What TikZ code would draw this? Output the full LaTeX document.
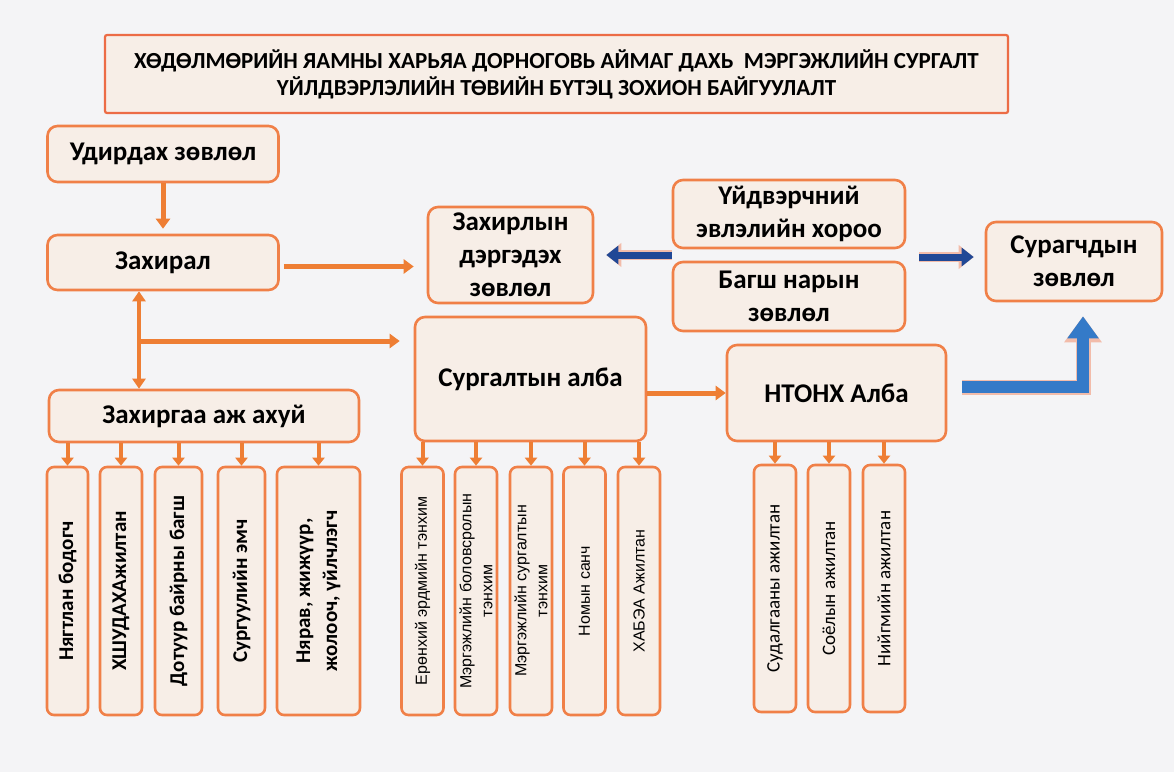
\documentclass[tikz,border=0pt]{standalone}
\usepackage{fontspec}
\setmainfont{Carlito}
\newfontfamily\arialfont{Liberation Sans}
\usepackage{tikz}
\usetikzlibrary{arrows.meta, positioning, calc}
\definecolor{bgcol}{RGB}{244,244,246}
\definecolor{boxfill}{RGB}{247,238,231}
\definecolor{boxline}{RGB}{240,128,72}
\definecolor{titleline}{RGB}{236,108,70}
\definecolor{arrcol}{RGB}{238,126,52}
\definecolor{navy}{RGB}{32,72,150}
\definecolor{skyblue}{RGB}{52,122,200}
\definecolor{halo}{RGB}{242,188,170}

\begin{document}
\begin{tikzpicture}[x=1pt, y=-1pt,
  bx/.style={draw=boxline, line width=2.6pt, fill=boxfill, rounded corners=10pt, inner sep=0pt,
    align=center, font=\bfseries\fontsize{27}{33}\selectfont},
  leaf/.style={bx, minimum height=248pt, rounded corners=7pt},
  vlab/.style={rotate=90, align=center, inner sep=0pt},
  oarr/.style={draw=arrcol, line width=5pt, -{Triangle[width=14pt,length=10pt]}},
  carr/.style={oarr, line width=4pt, -{Triangle[width=12pt,length=8pt]}},
  barr/.style={draw=navy, line width=7pt, -{Triangle[width=18pt,length=12pt]},
    preaction={draw=halo, line width=10pt, -{Triangle[width=23pt,length=15pt]}}},
  barrb/.style={draw=skyblue, line width=12pt, -{Triangle[width=30pt,length=22pt]},
    preaction={draw=halo, line width=15pt, -{Triangle[width=36pt,length=26pt]}}}]

  \fill[bgcol] (0,0) rectangle (1174,772);
  \useasboundingbox (0,0) rectangle (1174,772);

  \node[bx, draw=titleline, line width=2.2pt, rounded corners=2pt, minimum width=903pt, minimum height=78pt,
    font=\bfseries\fontsize{23}{27}\selectfont] (title) at (556.5,74)
    {ХӨДӨЛМӨРИЙН ЯАМНЫ ХАРЬЯА ДОРНОГОВЬ АЙМАГ ДАХЬ \ МЭРГЭЖЛИЙН СУРГАЛТ\\ҮЙЛДВЭРЛЭЛИЙН ТӨВИЙН БҮТЭЦ ЗОХИОН БАЙГУУЛАЛТ};

  % upper level
  \node[bx, minimum width=231pt, minimum height=56pt] (udirdah) at (163,154) {Удирдах зөвлөл};
  \node[bx, minimum width=231pt, minimum height=55pt] (zahiral) at (163,262.5) {Захирал};
  \node[bx, minimum width=165pt, minimum height=96pt] (dergedeh) at (510.5,255) {Захирлын\\дэргэдэх\\зөвлөл};
  \node[bx, minimum width=232pt, minimum height=68pt] (union) at (789,214) {Үйдвэрчний\\эвлэлийн хороо};
  \node[bx, minimum width=232pt, minimum height=69pt] (teachers) at (789,296.5) {Багш нарын\\зөвлөл};
  \node[bx, minimum width=176pt, minimum height=79pt] (suragch) at (1074,261.5) {Сурагчдын\\зөвлөл};

  % units
  \node[bx, minimum width=310pt, minimum height=52pt] (zahirgaa) at (204,416) {Захиргаа аж ахуй};
  \node[bx, minimum width=231pt, minimum height=124pt] (surgalt) at (530.5,379) {Сургалтын алба};
  \node[bx, minimum width=219pt, minimum height=96pt] (ntonh) at (836.5,393) {НТОНХ Алба};

  \coordinate (br) at (139,341);
  \draw[oarr, shorten >=5pt] (udirdah) -- (zahiral);
  \draw[oarr, shorten <=4pt, shorten >=13pt] ([yshift=-4pt]zahiral.east) -- ([yshift=-4pt]dergedeh.west |- zahiral.east);
  \draw[oarr, line width=4pt, {Triangle[width=13pt,length=10pt]}-{Triangle[width=13pt,length=10pt]}]
    (zahiral.south -| br) -- (zahirgaa.north -| br);
  \draw[oarr, shorten >=14pt] (br) -- (surgalt.west |- br);
  \draw[oarr] (surgalt.east |- ntonh.west) -- (ntonh.west);

  \coordinate (gapl) at ($(union.south west)!0.5!(teachers.north west)$);
  \coordinate (gapr) at ($(union.south east)!0.5!(teachers.north east)$);
  \draw[barr, shorten >=12pt] (gapl) -- (dergedeh.east |- gapl);
  \draw[barr, shorten <=13pt, shorten >=11pt] ([yshift=-2pt]gapr) -- ([yshift=-2pt]suragch.west |- gapr);
  \draw[barrb, shorten <=15pt, shorten >=14pt] ([yshift=6pt]ntonh.east) -| ([xshift=9pt]suragch.south);

  % leaves
  \foreach \n/\x/\w/\t in {a1/67.5/41/{Нягтлан бодогч}, a2/121/42/{ХШУДАХАжилтан},
      a3/178.5/47/{Дотуур байрны багш}, a4/241.5/47/{Сургуулийн эмч},
      a5/318.5/83/{Нярав, жижүүр,\\жолооч, үйлчлэгч}} {
    \node[leaf, minimum width=\w pt,
      label={[vlab, font=\bfseries\fontsize{21}{27}\selectfont]center:\t}] (\n) at (\x,591) {};
    \draw[carr] (\n.north |- zahirgaa.south) -- (\n.north);
  }
  \foreach \n/\x/\t in {b1/422.5/{Ерөнхий эрдмийн тэнхим}, b2/476/{Мэргэжлийн боловсролын\\тэнхим},
      b3/531/{Мэргэжлийн сургалтын\\тэнхим}, b4/584.5/{Номын санч}, b5/639/{ХАБЭА Ажилтан}} {
    \node[leaf, minimum width=42pt,
      label={[vlab, font=\arialfont\fontsize{16}{21}\selectfont]center:\t}] (\n) at (\x,591) {};
    \draw[carr] (\n.north |- surgalt.south) -- (\n.north);
  }
  \foreach \n/\x/\t in {c1/775/{Судалгааны ажилтан}, c2/829/{Соёлын ажилтан}, c3/884/{Нийгмийн ажилтан}} {
    \node[leaf, minimum width=42pt, minimum height=247pt,
      label={[vlab, font=\fontsize{19}{23}\selectfont]center:\t}] (\n) at (\x,588.5) {};
    \draw[carr] (\n.north |- ntonh.south) -- (\n.north);
  }
\end{tikzpicture}
\end{document}
